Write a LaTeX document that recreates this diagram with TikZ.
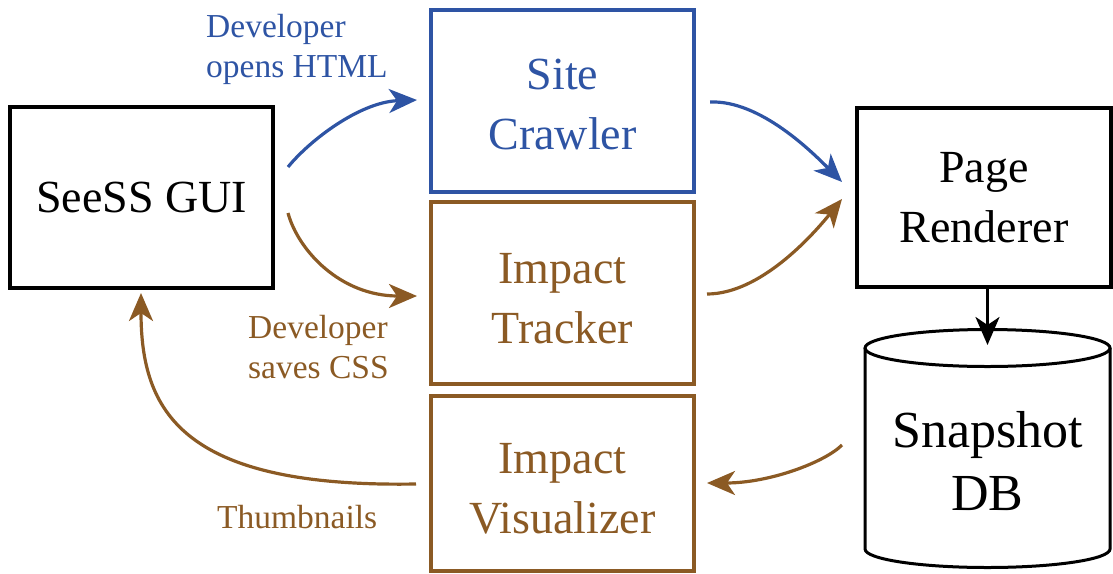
\documentclass[tikz,border=0pt]{standalone}
\usepackage{fontspec}
\setmainfont{Liberation Serif}
\usetikzlibrary{arrows.meta,calc}
\definecolor{flowblue}{RGB}{46,84,164}
\definecolor{flowbrown}{RGB}{139,90,36}
\begin{document}
\begin{tikzpicture}[x=1pt,y=-1pt,
  box/.style={draw, line width=3.2pt, rectangle, outer sep=0pt, inner sep=0pt,
    align=center, font=\fontsize{46}{60}\selectfont, minimum width=263pt},
  flow/.style={line width=3.2pt, -{Stealth[length=28pt,width=24pt,inset=8pt]}},
  lbl/.style={inner sep=0pt, align=left, font=\fontsize{33.5}{40}\selectfont}
]
\useasboundingbox (0,0) rectangle (1113,573);

% components (the struts set the first baseline of each two-line label)
\node[box, minimum height=181pt] (gui) at (141.5,197.5) {SeeSS GUI};
\node[box, flowblue, minimum height=182pt] (crawler) at (562.5,101) {\rule{0pt}{38pt}Site\\Crawler};
\node[box, flowbrown, minimum height=182pt] (tracker) at (562.5,293) {\rule{0pt}{42pt}Impact\\Tracker};
\node[box, flowbrown, minimum height=175pt] (visualizer) at (562.5,483.5) {\rule{0pt}{41pt}Impact\\Visualizer};
\node[box, minimum width=254pt, minimum height=179pt] (renderer) at (984,197.5) {Page\\Renderer};

% database cylinder
\node[minimum width=245pt, minimum height=201pt, inner sep=0pt, outer sep=0pt] (db) at (987.5,448.5) {};
\draw[line width=3pt] (db.north west) -- (db.south west)
  arc[start angle=180, end angle=360, x radius=122.5pt, y radius=18.5pt] -- (db.north east);
\draw[line width=3pt] (db.north) ellipse[x radius=122.5pt, y radius=18.5pt];
\node[inner sep=0pt, align=center, font=\fontsize{52}{63}\selectfont] (dbtext) at (987.5,461) {Snapshot\\DB};

% edge labels
\node[lbl, flowblue, anchor=north west] (lblhtml) at (206,14) {Developer\\opens HTML};
\node[lbl, flowbrown, anchor=north west] (lblcss) at (248,315) {Developer\\saves CSS};
\node[lbl, flowbrown, anchor=base west] (lblthumb) at (217,528) {Thumbnails};

% flows
\draw[flow, flowblue] ($(gui.east)+(15,-30.5)$) .. controls +(22,-27) and +(-57,2) .. ($(crawler.west)+(-14,-1)$);
\draw[flow, flowbrown] ($(gui.east)+(15,15.5)$) .. controls +(10,37) and +(-77,0) .. ($(tracker.west)+(-14,3)$);
\draw[flow, flowblue] ($(crawler.east)+(16,1)$) .. controls +(50,-2) and +(-30,-30) .. ($(renderer.west)+(-15,-15.5)$);
\draw[flow, flowbrown] ($(tracker.east)+(13,1)$) .. controls +(53,0) and +(-30,37) .. ($(renderer.west)+(-15,1.5)$);
\draw[flow, flowbrown] ($(db.west)+(-23,-3.5)$) .. controls +(-17,17) and +(63,0) .. ($(visualizer.east)+(13,-0.5)$);
\draw[flow, flowbrown] ($(visualizer.west)+(-15,0.5)$) .. controls +(-236,4) and +(0,117) .. ($(gui.south)+(-0.5,5)$);
\draw[flow] (renderer.south -| db.north) -- ($(db.north)+(0,-3)$);
\end{tikzpicture}
\end{document}
